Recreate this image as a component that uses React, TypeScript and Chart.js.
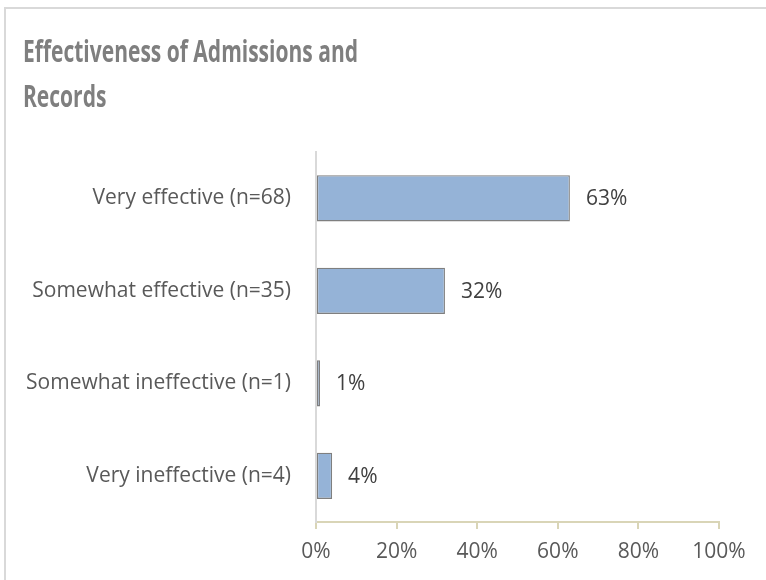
import React, { useEffect, useRef } from "react";
import { Chart, registerables } from "chart.js";

Chart.register(...registerables);

const titleLines = ["Effectiveness of Admissions and", "Records"];
const categories = [
  "Very effective (n=68)",
  "Somewhat effective (n=35)",
  "Somewhat ineffective (n=1)",
  "Very ineffective (n=4)",
];
const percentValues = [63, 32, 1, 4];
const xTicks = [0, 20, 40, 60, 80, 100];

const FONT = '"Open Sans", "Liberation Sans", sans-serif';

export default function App() {
  const ref = useRef<HTMLCanvasElement | null>(null);

  useEffect(() => {
    document.body.style.margin = "0";
    const canvas = ref.current;
    if (!canvas) return;

    const titlePlugin = {
      id: "customTitle",
      afterDraw(chart: any) {
        const ctx = chart.ctx;
        ctx.save();
        ctx.fillStyle = "#7f7f7f";
        ctx.font = `bold 31px ${FONT}`;
        ctx.textBaseline = "alphabetic";
        ctx.textAlign = "left";
        const w = ctx.measureText(titleLines[0]).width;
        const sx = 335 / w;
        const baselines = [62, 107];
        titleLines.forEach((line, i) => {
          ctx.save();
          ctx.translate(23, baselines[i]);
          ctx.scale(sx, 1);
          ctx.fillText(line, 0, 0);
          ctx.restore();
        });
        ctx.restore();
      },
    };

    const valueLabels = {
      id: "valueLabels",
      afterDatasetsDraw(chart: any) {
        const ctx = chart.ctx;
        const meta = chart.getDatasetMeta(0);
        ctx.save();
        ctx.fillStyle = "#404040";
        ctx.font = `21px ${FONT}`;
        ctx.textBaseline = "middle";
        ctx.textAlign = "left";
        meta.data.forEach((bar: any, i: number) => {
          ctx.fillText(percentValues[i] + "%", bar.x + 16, bar.y + 1);
        });
        ctx.restore();
      },
    };

    const chart = new Chart(canvas, {
      type: "bar",
      data: {
        labels: categories,
        datasets: [
          {
            data: percentValues,
            backgroundColor: "#95b3d7",
            borderColor: "#7f7f7f",
            borderWidth: 1.3,
            borderSkipped: false,
            barPercentage: 0.5,
            categoryPercentage: 1,
          },
        ],
      },
      options: {
        indexAxis: "y",
        responsive: false,
        animation: false,
        layout: { padding: { top: 152, right: 47, left: 0, bottom: 0 } },
        plugins: {
          legend: { display: false },
          tooltip: { enabled: false },
          title: { display: false },
        },
        scales: {
          x: {
            min: 0,
            max: 100,
            afterBuildTicks: (scale: any) => {
              scale.ticks = xTicks.map((v) => ({ value: v }));
            },
            afterFit: (scale: any) => {
              scale.height = 58;
            },
            ticks: {
              color: "#595959",
              font: { family: FONT, size: 21 },
              padding: 10,
              maxRotation: 0,
              autoSkip: false,
              callback: (v: any) => v + "%",
            },
            grid: {
              drawOnChartArea: false,
              drawTicks: true,
              tickLength: 7,
              color: "#d9d5b7",
              lineWidth: 2,
            },
            border: { display: true, color: "#d9d5b7", width: 2 },
          },
          y: {
            afterFit: (scale: any) => {
              scale.width = 316;
            },
            ticks: {
              color: "#595959",
              font: { family: FONT, size: 21 },
              padding: 25,
            },
            grid: { display: false, drawTicks: false },
            border: { display: true, color: "#d9d9d9", width: 2 },
          },
        },
      },
      plugins: [titlePlugin, valueLabels],
    } as any);

    return () => chart.destroy();
  }, []);

  return (
    <div style={{ position: "fixed", left: 0, top: 0, width: 766, height: 580, background: "#fff" }}>
      <div
        style={{
          position: "absolute",
          left: 4,
          top: 7,
          width: 800,
          height: 700,
          borderTop: "2px solid #d9d9d9",
          borderLeft: "2px solid #d9d9d9",
          boxSizing: "border-box",
        }}
      />
      <canvas ref={ref} width={766} height={580} style={{ position: "absolute", left: 0, top: 0 }} />
    </div>
  );
}
